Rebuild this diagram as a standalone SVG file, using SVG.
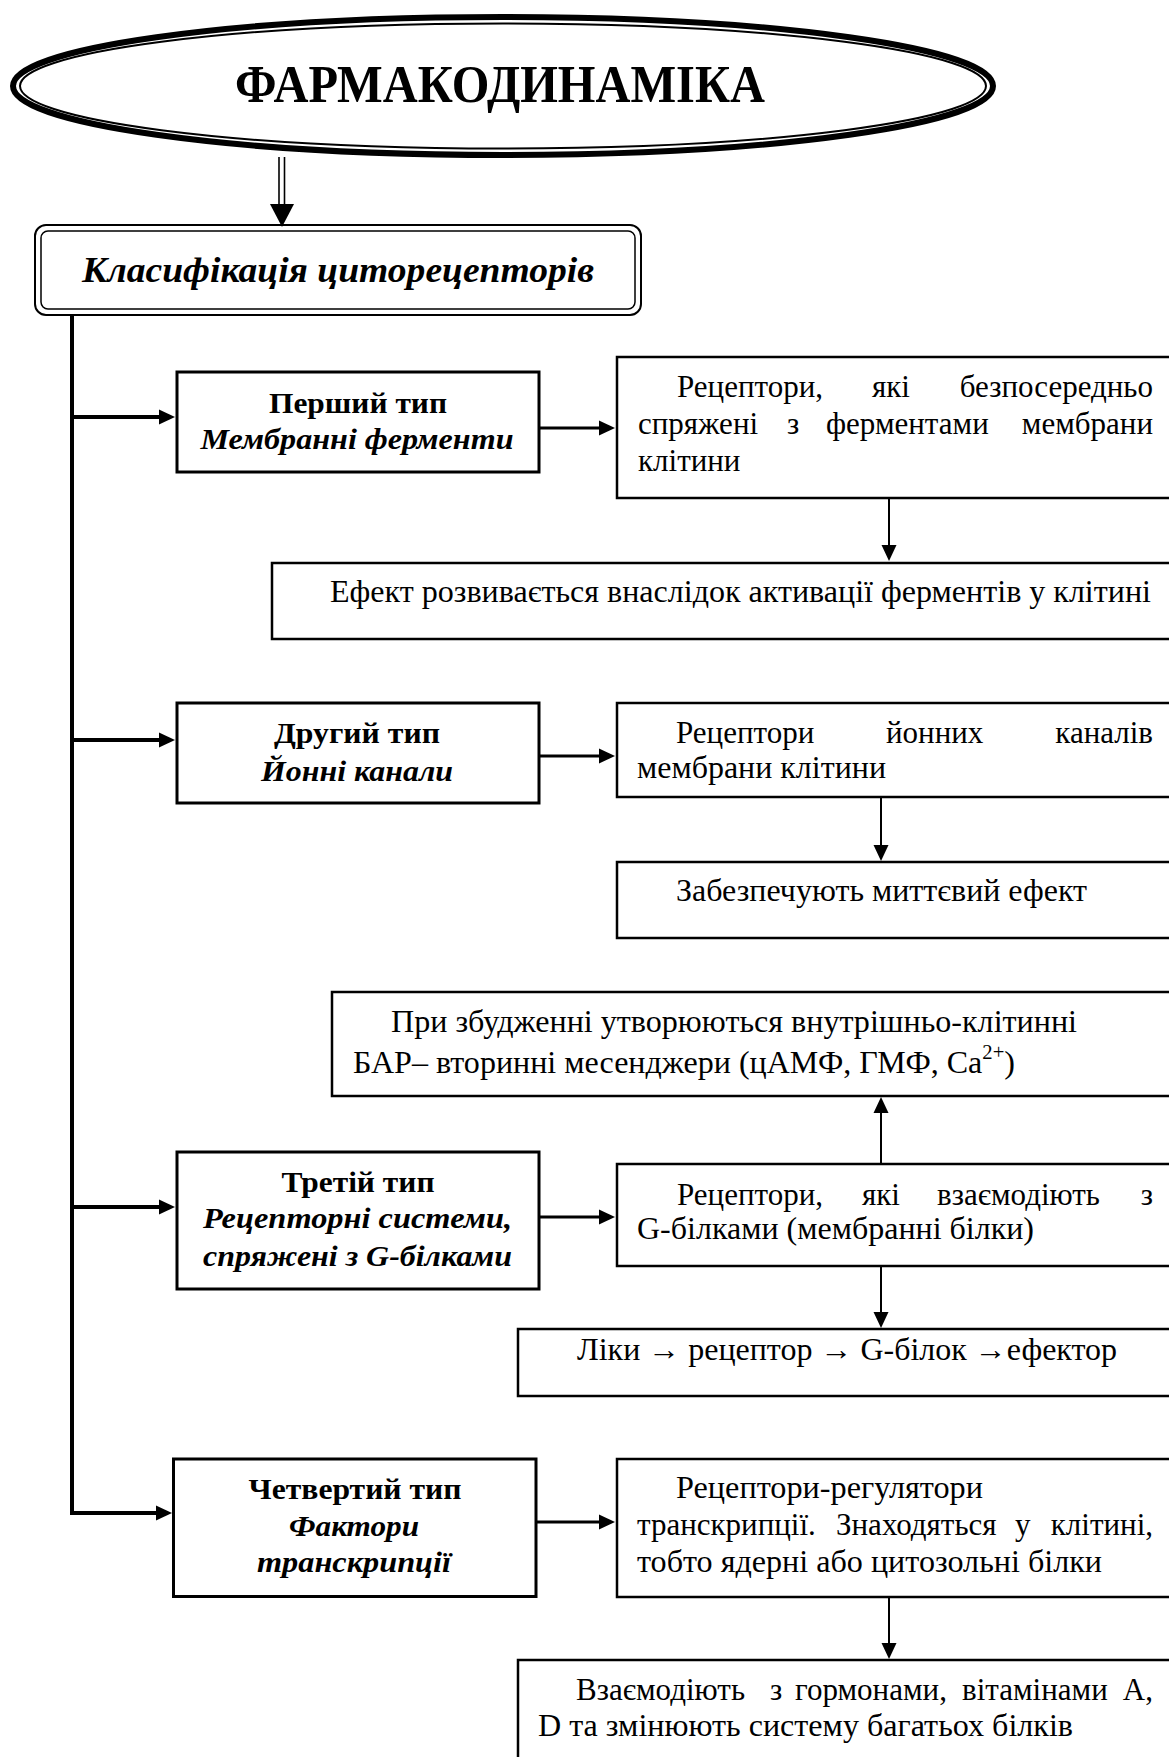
<svg xmlns="http://www.w3.org/2000/svg" width="1169" height="1757" viewBox="0 0 1169 1757">
  <style>
    .t { font-family: "Liberation Serif", "Times New Roman", serif; font-size: 31px; fill: #000; }
    .b { font-weight: bold; }
    .i { font-style: italic; }
    .mid { text-anchor: middle; }
    .end { text-anchor: end; }
    .h1 { font-size: 52px; }
    .h2 { font-size: 36px; }
    .tt { font-size: 30px; }
    .sup { font-size: 20px; }
    .box { fill: #fff; stroke: #000; stroke-width: 2.5; }
    .tbox { fill: #fff; stroke: #000; stroke-width: 3; }
    .wire { fill: none; stroke: #000; stroke-width: 2; }
    .feed { fill: none; stroke: #000; stroke-width: 3; }
    .trunk { fill: none; stroke: #000; stroke-width: 4; }
  </style>
  <defs>
    <marker id="head" viewBox="0 0 16 16" refX="1" refY="8" markerWidth="16" markerHeight="16" markerUnits="userSpaceOnUse" orient="auto">
      <path d="M0,0.5 L16,8 L0,15.5 Z" fill="#000"/>
    </marker>
  </defs>
  <rect width="1169" height="1757" fill="#fff"/>

  <!-- title ellipse: thick outer line, thin inner line -->
  <g id="title">
    <ellipse cx="503" cy="86" rx="490" ry="69" fill="#fff" stroke="#000" stroke-width="6"/>
    <ellipse cx="503" cy="86" rx="483" ry="62.5" fill="none" stroke="#000" stroke-width="2"/>
    <text class="t b mid h1" x="500" y="102" textLength="530" lengthAdjust="spacingAndGlyphs">ФАРМАКОДИНАМІКА</text>
  </g>

  <!-- classification box: double rounded frame -->
  <g id="classification">
    <rect x="35" y="225" width="606" height="90" rx="11" fill="#fff" stroke="#000" stroke-width="2"/>
    <rect x="41" y="231" width="594" height="78" rx="7" fill="none" stroke="#000" stroke-width="1.5"/>
    <text class="t b i h2" x="82" y="282" textLength="512" lengthAdjust="spacingAndGlyphs">Класифікація циторецепторів</text>
  </g>

  <g id="connectors">
    <!-- double arrow from title -->
    <line x1="279" y1="157" x2="279" y2="205" stroke="#000" stroke-width="1.6"/>
    <line x1="284.5" y1="157" x2="284.5" y2="205" stroke="#000" stroke-width="1.6"/>
    <polygon points="270,204 294,204 282,227" fill="#000"/>
    <!-- trunk and branches -->
    <path class="trunk" d="M72,315 V1513 H157" marker-end="url(#head)"/>
    <path class="trunk" d="M72,417 H160" marker-end="url(#head)"/>
    <path class="trunk" d="M72,740 H160" marker-end="url(#head)"/>
    <path class="trunk" d="M72,1207 H160" marker-end="url(#head)"/>
    <!-- type box to description -->
    <path class="feed" d="M539,428 H600" marker-end="url(#head)"/>
    <path class="feed" d="M539,756 H600" marker-end="url(#head)"/>
    <path class="feed" d="M539,1217 H600" marker-end="url(#head)"/>
    <path class="feed" d="M536,1522 H600" marker-end="url(#head)"/>
    <!-- vertical links -->
    <path class="wire" d="M889,498 V546" marker-end="url(#head)"/>
    <path class="wire" d="M881,797 V846" marker-end="url(#head)"/>
    <path class="wire" d="M881,1164 V1112" marker-end="url(#head)"/>
    <path class="wire" d="M881,1266 V1313" marker-end="url(#head)"/>
    <path class="wire" d="M889,1597 V1644" marker-end="url(#head)"/>
  </g>

  <!-- type 1 -->
  <g id="type1">
    <rect class="tbox" x="177" y="372" width="362" height="100"/>
    <text class="t b mid tt" x="358" y="413" textLength="178" lengthAdjust="spacingAndGlyphs">Перший тип</text>
    <text class="t b i mid tt" x="357" y="449" textLength="313" lengthAdjust="spacingAndGlyphs">Мембранні ферменти</text>
  </g>
  <g id="type1-desc">
    <rect class="box" x="617" y="357" width="560" height="141"/>
    <text class="t" y="397"><tspan x="677">Рецептори,</tspan><tspan x="872">які</tspan><tspan class="end" x="1153">безпосередньо</tspan></text>
    <text class="t" y="434"><tspan x="638">спряжені</tspan><tspan x="787">з</tspan><tspan x="826">ферментами</tspan><tspan class="end" x="1153">мембрани</tspan></text>
    <text class="t" x="638" y="471">клітини</text>
  </g>
  <g id="type1-effect">
    <rect class="box" x="272" y="563" width="905" height="76"/>
    <text class="t" x="330" y="602" textLength="821" lengthAdjust="spacingAndGlyphs">Ефект розвивається внаслідок активації ферментів у клітині</text>
  </g>

  <!-- type 2 -->
  <g id="type2">
    <rect class="tbox" x="177" y="703" width="362" height="100"/>
    <text class="t b mid tt" x="357" y="743" textLength="166" lengthAdjust="spacingAndGlyphs">Другий тип</text>
    <text class="t b i mid tt" x="357" y="781" textLength="192" lengthAdjust="spacingAndGlyphs">Йонні канали</text>
  </g>
  <g id="type2-desc">
    <rect class="box" x="617" y="703" width="560" height="94"/>
    <text class="t" y="743"><tspan x="676">Рецептори</tspan><tspan x="886">йонних</tspan><tspan class="end" x="1153">каналів</tspan></text>
    <text class="t" x="637" y="778" textLength="249" lengthAdjust="spacingAndGlyphs">мембрани клітини</text>
  </g>
  <g id="type2-effect">
    <rect class="box" x="617" y="862" width="560" height="76"/>
    <text class="t" x="676" y="901" textLength="411" lengthAdjust="spacingAndGlyphs">Забезпечують миттєвий ефект</text>
  </g>

  <!-- type 3 -->
  <g id="type3-messengers">
    <rect class="box" x="332" y="992" width="845" height="104"/>
    <text class="t" x="391" y="1032" textLength="686" lengthAdjust="spacingAndGlyphs">При збудженні утворюються внутрішньо-клітинні</text>
    <text class="t" x="353" y="1073" textLength="662" lengthAdjust="spacingAndGlyphs">БАР– вторинні месенджери (цАМФ, ГМФ, Ca<tspan class="sup" dy="-14">2+</tspan><tspan dy="14">)</tspan></text>
  </g>
  <g id="type3">
    <rect class="tbox" x="177" y="1152" width="362" height="137"/>
    <text class="t b mid tt" x="358" y="1192" textLength="153" lengthAdjust="spacingAndGlyphs">Третій тип</text>
    <text class="t b i mid tt" x="357.5" y="1228" textLength="309" lengthAdjust="spacingAndGlyphs">Рецепторні системи,</text>
    <text class="t b i mid tt" x="357.5" y="1266" textLength="309" lengthAdjust="spacingAndGlyphs">спряжені з G-білками</text>
  </g>
  <g id="type3-desc">
    <rect class="box" x="617" y="1164" width="560" height="102"/>
    <text class="t" y="1205"><tspan x="677">Рецептори,</tspan><tspan x="862">які</tspan><tspan x="937">взаємодіють</tspan><tspan class="end" x="1153">з</tspan></text>
    <text class="t" x="637" y="1239" textLength="397" lengthAdjust="spacingAndGlyphs">G-білками (мембранні білки)</text>
  </g>
  <g id="type3-chain">
    <rect class="box" x="518" y="1329" width="659" height="67"/>
    <text class="t" x="577" y="1360" textLength="540" lengthAdjust="spacingAndGlyphs">Ліки → рецептор → G-білок →ефектор</text>
  </g>

  <!-- type 4 -->
  <g id="type4">
    <rect class="tbox" x="173.5" y="1459" width="362.5" height="137.5"/>
    <text class="t b mid tt" x="355" y="1499" textLength="213" lengthAdjust="spacingAndGlyphs">Четвертий тип</text>
    <text class="t b i mid tt" x="354" y="1536" textLength="130" lengthAdjust="spacingAndGlyphs">Фактори</text>
    <text class="t b i mid tt" x="354" y="1572" textLength="194" lengthAdjust="spacingAndGlyphs">транскрипції</text>
  </g>
  <g id="type4-desc">
    <rect class="box" x="617" y="1459" width="560" height="138"/>
    <text class="t" x="676" y="1498" textLength="307" lengthAdjust="spacingAndGlyphs">Рецептори-регулятори</text>
    <text class="t" y="1535"><tspan x="637">транскрипції.</tspan><tspan x="836">Знаходяться</tspan><tspan x="1015">у</tspan><tspan class="end" x="1153">клітині,</tspan></text>
    <text class="t" x="637" y="1572" textLength="465" lengthAdjust="spacingAndGlyphs">тобто ядерні або цитозольні білки</text>
  </g>
  <g id="type4-effect">
    <rect class="box" x="518" y="1660" width="659" height="110"/>
    <text class="t" y="1700"><tspan x="576">Взаємодіють</tspan><tspan x="770">з</tspan><tspan x="795">гормонами,</tspan><tspan x="962">вітамінами</tspan><tspan class="end" x="1153">А,</tspan></text>
    <text class="t" x="538" y="1736" textLength="535" lengthAdjust="spacingAndGlyphs">D та змінюють систему багатьох білків</text>
  </g>
</svg>
